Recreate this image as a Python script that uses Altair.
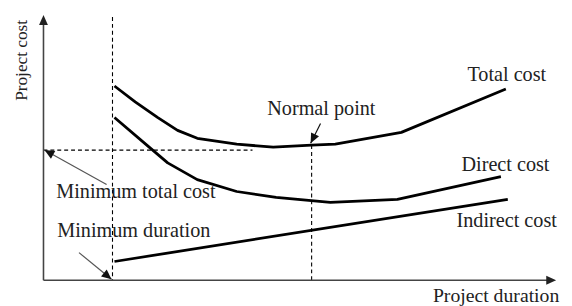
import math
import altair as alt
import pandas as pd

# ---- data (duration units on x, cost units on y; origin at the axes' corner) ----
total_x = [72, 93, 116, 136, 156, 196, 233, 272, 296, 363, 469]
total_y = [197, 181, 165, 152, 144, 138, 135, 137, 138, 150, 194]
direct_x = [72, 106, 126, 156, 196, 236, 291, 359, 464]
direct_y = [165, 136, 119, 102, 90, 84, 79, 82, 105]
indirect_x = [72, 471]
indirect_y = [19, 82]

label_text = ["Total cost", "Normal point", "Direct cost", "Indirect cost",
              "Minimum total cost", "Minimum duration"]
label_x = [430, 227, 424, 419, 13, 14]
label_y = [208, 174, 117, 60, 89, 50]

xtitle_text = ["Project duration"]
xtitle_x = [395]
xtitle_y = [-16]

ytitle_text = ["Project cost"]
ytitle_x = [-22]
ytitle_y = [223]

# dashed guide lines: x, y, x2, y2
guide_x = [70, 272, 0]
guide_y = [267, 0, 132]
guide_x2 = [70, 272, 212]
guide_y2 = [0, 137, 132]

# annotation arrows: from (x, y) to tip (x2, y2)
arrow_x = [64, 36, 281]
arrow_y = [97, 28, 159]
arrow_x2 = [1, 69, 271]
arrow_y2 = [132, 1, 139]
arrow_color = ["#555555", "#555555", "#111111"]

# axes
axis_end_x = 520
axis_end_y = 269

XD = [-36, 528]
YD = [-24, 274]
xs = alt.Scale(domain=XD, nice=False, zero=False)
ys = alt.Scale(domain=YD, nice=False, zero=False)

rows = []
for name, xs_, ys_ in [("Total", total_x, total_y), ("Direct", direct_x, direct_y),
                       ("Indirect", indirect_x, indirect_y)]:
    for i, (a, b) in enumerate(zip(xs_, ys_)):
        rows.append({"series": name, "i": i, "x": a, "y": b})
curves = pd.DataFrame(rows)

X = lambda: alt.X("x:Q", scale=xs, axis=None)
Y = lambda: alt.Y("y:Q", scale=ys, axis=None)

lines = alt.Chart(curves).mark_line(color="black", strokeWidth=2.8, strokeJoin="round").encode(
    x=X(), y=Y(), detail="series:N", order="i:Q",
)

guides = alt.Chart(pd.DataFrame({"x": guide_x, "y": guide_y, "x2": guide_x2, "y2": guide_y2})).mark_rule(
    color="black", strokeWidth=1.1, strokeDash=[4, 3]
).encode(x=X(), y=Y(), x2="x2:Q", y2="y2:Q")

axes_df = pd.DataFrame({"x": [0, 0], "y": [0, 0], "x2": [0, axis_end_x - 6], "y2": [axis_end_y - 6, 0]})
axes = alt.Chart(axes_df).mark_rule(color="#444444", strokeWidth=1.6).encode(
    x=X(), y=Y(), x2="x2:Q", y2="y2:Q")

arrows_df = pd.DataFrame({"x": arrow_x, "y": arrow_y, "x2": arrow_x2, "y2": arrow_y2, "c": arrow_color})
arrow_lines = alt.Chart(arrows_df).mark_rule(strokeWidth=1.2).encode(
    x=X(), y=Y(), x2="x2:Q", y2="y2:Q", color=alt.Color("c:N", scale=None))

# arrowheads (tip at the point, angle clockwise from up)
heads = []
for a, b, a2, b2 in zip(arrow_x, arrow_y, arrow_x2, arrow_y2):
    ang = math.degrees(math.atan2(a2 - a, b2 - b)) % 360
    heads.append({"x": a2, "y": b2, "angle": ang, "c": "#111111"})
heads.append({"x": 0, "y": axis_end_y, "angle": 0, "c": "#222222"})
heads.append({"x": axis_end_x, "y": 0, "angle": 90, "c": "#222222"})
heads_df = pd.DataFrame(heads)
arrowheads = alt.Chart(heads_df).mark_point(
    shape="M0,0 L0.9,2 L-0.9,2 Z", filled=True, size=100, opacity=1
).encode(
    x=X(), y=Y(), angle=alt.Angle("angle:Q", scale=None), color=alt.Color("c:N", scale=None),
)

labels = alt.Chart(pd.DataFrame({"t": label_text, "x": label_x, "y": label_y})).mark_text(
    align="left", baseline="middle", font="Liberation Serif", fontSize=20.5, color="#222222"
).encode(x=X(), y=Y(), text="t:N")

xtitle = alt.Chart(pd.DataFrame({"t": xtitle_text, "x": xtitle_x, "y": xtitle_y})).mark_text(
    align="left", baseline="middle", font="Liberation Serif", fontSize=20, color="#222222"
).encode(x=X(), y=Y(), text="t:N")

ytitle = alt.Chart(pd.DataFrame({"t": ytitle_text, "x": ytitle_x, "y": ytitle_y})).mark_text(
    align="center", baseline="middle", font="Liberation Serif", fontSize=17.5, angle=270, color="#222222"
).encode(x=X(), y=Y(), text="t:N")

chart = alt.layer(guides, axes, arrow_lines, lines, arrowheads, labels, xtitle, ytitle).properties(
    width=564, height=298, padding=0, autosize=alt.AutoSizeParams(type="none"),
    background="white",
).configure_view(stroke=None)

chart.save("out.html", embed_options={"renderer": "svg", "actions": False})
